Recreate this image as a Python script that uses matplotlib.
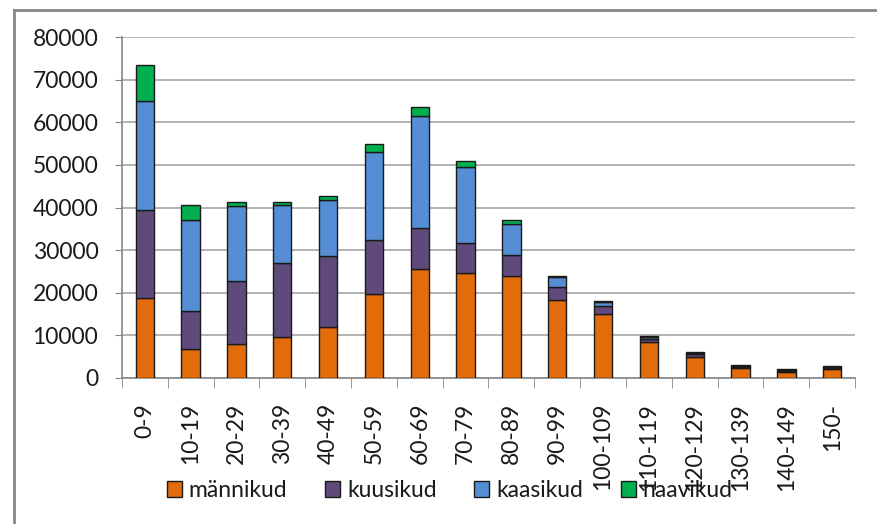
import numpy as np
import matplotlib
matplotlib.use("Agg")
import matplotlib.pyplot as plt
from matplotlib.lines import Line2D

# vanuseklassid
klassid = ['0-9', '10-19', '20-29', '30-39', '40-49', '50-59', '60-69', '70-79',
           '80-89', '90-99', '100-109', '110-119', '120-129', '130-139', '140-149', '150-']

mannikud = [18700, 6700, 7900, 9700, 11900, 19600, 25500, 24700,
            24000, 18300, 15000, 8400, 5000, 2300, 1450, 2000]
kuusikud = [20700, 9000, 14800, 17200, 16800, 12700, 9700, 6900,
            4900, 3100, 1800, 700, 600, 200, 150, 200]
kaasikud = [25650, 21400, 17700, 13800, 13000, 20700, 26300, 17800,
            7300, 2200, 950, 400, 250, 250, 200, 300]
haavikud = [8450, 3600, 1000, 600, 900, 1900, 2100, 1600,
            900, 300, 300, 400, 200, 250, 250, 300]

seeriad = [('männikud', mannikud, '#E36C0A'),
           ('kuusikud', kuusikud, '#604A7B'),
           ('kaasikud', kaasikud, '#558ED5'),
           ('haavikud', haavikud, '#00B050')]

plt.rcParams['font.family'] = ['Lato', 'DejaVu Sans']
tekst = '#1a1a1a'

fig = plt.figure(figsize=(8.77, 5.24), dpi=100)
ax = fig.add_axes([0.139, 0.279, 0.836, 0.650])

x = np.arange(len(klassid))
alus = np.zeros(len(klassid))
for nimi, vaartused, varv in seeriad:
    ax.bar(x, vaartused, width=0.4, bottom=alus, color=varv, edgecolor='#1a1a1a',
           linewidth=1.0, label=nimi, zorder=3)
    alus += np.array(vaartused)

ax.set_xlim(-0.5, len(klassid) - 0.5)
ax.set_ylim(0, 80000)
ax.set_yticks(range(0, 80001, 10000))
ax.tick_params(axis='y', labelsize=16.5, length=5, color='#868686', pad=12,
               labelcolor=tekst)
ax.yaxis.grid(True, color='#A6A6A6', linewidth=1.2, zorder=0)

ax.set_xticks(x)
ax.set_xticklabels(klassid, rotation=90, fontsize=16.5, color=tekst)
ax.tick_params(axis='x', which='major', length=0, pad=18)
ax.set_xticks(np.arange(-0.5, len(klassid), 1), minor=True)
ax.tick_params(axis='x', which='minor', length=7, color='#868686')

for s in ['top', 'right']:
    ax.spines[s].set_visible(False)
for s in ['left', 'bottom']:
    ax.spines[s].set_color('#868686')
    ax.spines[s].set_linewidth(1.2)

# legend kattub originaalis osaliselt x-telje siltidega, jätame samamoodi
fig.legend(loc='center', bbox_to_anchor=(0.513, 0.064), ncol=4, frameon=False,
           fontsize=16.5, handlelength=0.65, handleheight=0.65, handletextpad=0.3,
           columnspacing=1.65, labelcolor=tekst)

# raam: ainult ülemine ja vasak serv on pildil näha
fig.lines.append(Line2D([13.5 / 877, 1.0], [1 - 10 / 524, 1 - 10 / 524],
                        transform=fig.transFigure, color='#868686', linewidth=2.0))
fig.lines.append(Line2D([13.5 / 877, 13.5 / 877], [0.0, 1 - 10 / 524],
                        transform=fig.transFigure, color='#868686', linewidth=2.0))

fig.savefig('out.png', dpi=100)
